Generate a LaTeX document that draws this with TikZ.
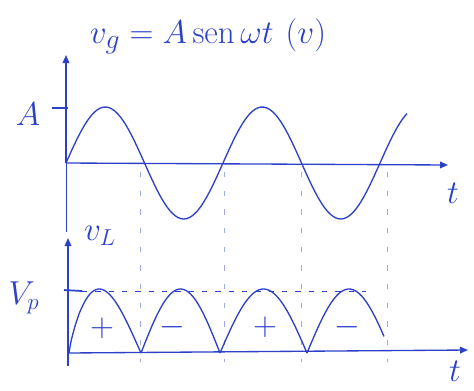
\documentclass[tikz,border=0pt]{standalone}
\usetikzlibrary{arrows.meta}
\definecolor{ink}{RGB}{45,65,200}
\begin{document}
\begin{tikzpicture}[x=0.75pt,y=-0.75pt,
  ink line/.style={draw=ink, line width=1pt},
  axis/.style={ink line, -{Triangle[length=6pt,width=5pt]}},
  guide/.style={draw=ink!45, line width=0.6pt, dash pattern=on 4pt off 10pt},
  lbl/.style={text=ink, inner sep=0pt, font=\fontsize{26}{28}\selectfont}]
\useasboundingbox (0,0) rectangle (474,390);
% coordinates
\coordinate (o1) at (66,163);
\coordinate (x1) at (448,165);
\coordinate (y1) at (66,55);
\coordinate (y1b) at (66,232);
\coordinate (o2) at (68,353);
\coordinate (o2b) at (68,366);
\coordinate (x2) at (468,350);
\coordinate (y2) at (68,238);
\coordinate (atick1) at (52,108);
\coordinate (atick2) at (68,108);
\coordinate (vp1) at (64,290);
\coordinate (vp2) at (82,291);
\coordinate (vpd) at (366,291);
% guides
\foreach \gx in {140,224,301,387}
  \draw[guide] (\gx,172) -- (\gx,362);
% axes
\draw[ink line, line width=0.7pt] (y1b) -- (o1);
\draw[axis] (o1) -- (y1);
\draw[axis] (o1) -- (x1);
\draw[axis] (o2b) -- (y2);
\draw[axis] (o2) -- (x2);
\draw[ink line] (atick1) -- (atick2);
\draw[ink line,line width=1.3pt] (vp1) -- (vp2);
\draw[draw=ink, line width=0.6pt, dash pattern=on 4pt off 6pt] (vp2) -- (vpd);
% sine
\draw[ink line] plot[domain=0:341,samples=120,smooth] ({66+\x},{163-56*sin(\x/157*360)});
% rectified
\draw[ink line] plot[domain=0:72,samples=50,smooth] ({69+\x},{353-64*sin(180*(\x/72)^0.8)});
\draw[ink line] plot[domain=0:79,samples=50,smooth] ({141+\x},{353-64*sin(180*\x/79)});
\draw[ink line] plot[domain=0:87,samples=50,smooth] ({220+\x},{353-64*sin(180*\x/87)});
\draw[ink line] plot[domain=0:77,samples=50,smooth] ({307+\x},{353-64*sin(180*\x/84)});
% labels
\node[lbl, font=\fontsize{30}{32}\selectfont] (title) at (208,36) {$v_g = A\,\mathrm{sen}\,\omega t\ (v)$};
\node[lbl] (lA) at (28,114) {$A$};
\node[lbl] (t1) at (453,193) {$t$};
\node[lbl] (t2) at (455,371) {$t$};
\node[lbl] (vL) at (100,236) {$v_L$};
\node[lbl] (Vp) at (24,298) {$V_p$};
\node[lbl] (s1) at (102,328) {$+$};
\node[lbl] (s2) at (172,327) {$-$};
\node[lbl] (s3) at (265,327) {$+$};
\node[lbl] (s4) at (347,327) {$-$};
\end{tikzpicture}
\end{document}
